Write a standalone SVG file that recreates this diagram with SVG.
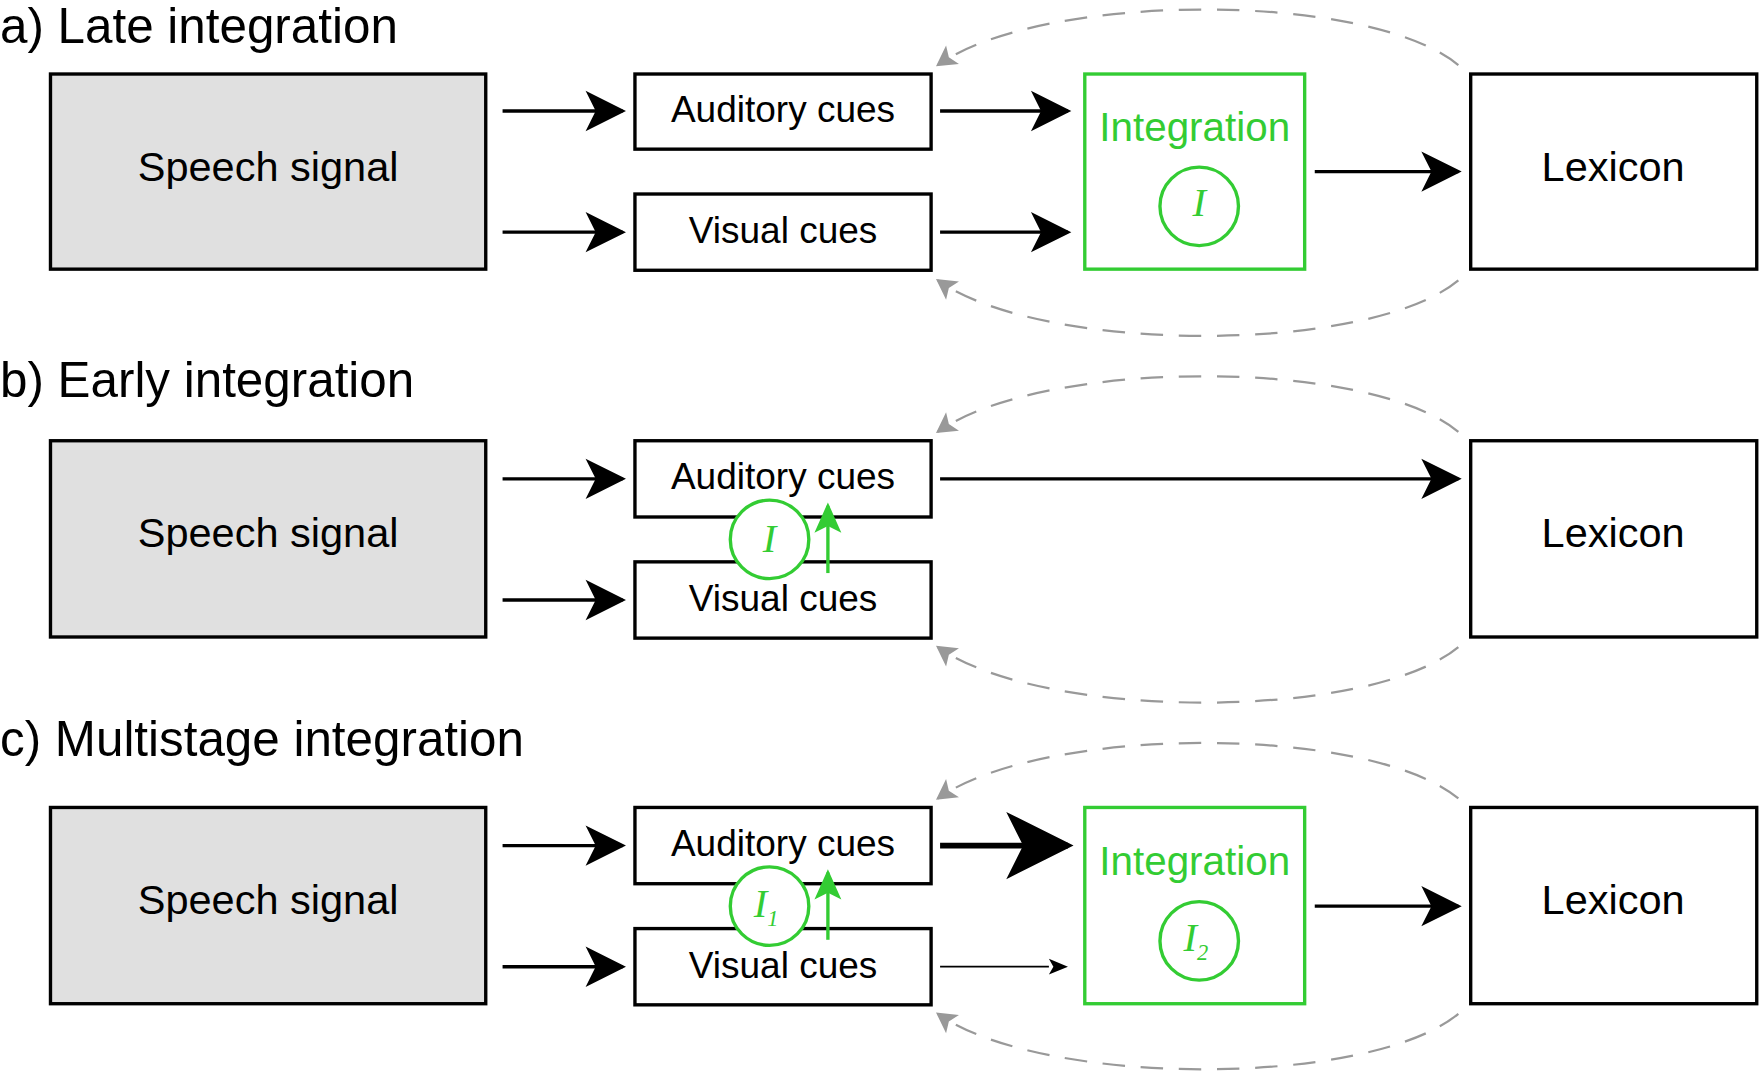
<svg xmlns="http://www.w3.org/2000/svg" width="1759" height="1071" viewBox="0 0 1759 1071">
<style>
text{font-family:"Liberation Sans",Arial,sans-serif}
.t{font-size:44px}
.l{font-size:33px;text-anchor:middle}
.gl{font-size:36px;text-anchor:middle;fill:#33cc33}
.b{font-size:37px;text-anchor:middle}
.box{fill:#fff;stroke:#000;stroke-width:3}
.sp{fill:#e0e0e0;stroke:#000;stroke-width:3}
.g{fill:#fff;stroke:#33cc33;stroke-width:3}
.a{stroke:#000;stroke-width:3;fill:none;marker-end:url(#ah)}
.d{stroke:#999;stroke-width:2;fill:none;stroke-dasharray:20 14;marker-end:url(#dh)}
.i{font-family:"Liberation Serif",serif;font-style:italic;font-size:36px;text-anchor:middle;fill:#33cc33}
</style>
<defs>
<marker id="ah" markerUnits="strokeWidth" markerWidth="12" markerHeight="12" refX="11" refY="6" orient="auto" overflow="visible"><path d="M0,0 L12,6 L0,12 L3,6 z" fill="#000"/></marker>
<marker id="gh" markerUnits="strokeWidth" markerWidth="9" markerHeight="8" refX="8" refY="4" orient="auto" overflow="visible"><path d="M0,0 L9,4 L0,8 L2,4 z" fill="#33cc33"/></marker>
<marker id="dh" markerUnits="strokeWidth" markerWidth="10" markerHeight="10" refX="8" refY="5" orient="auto" overflow="visible"><path d="M0,0 L9,5 L0,10 L2,5 z" fill="#999"/></marker>
</defs>
<g transform="scale(1.12181,1.12147)">
<text class="t" x="0" y="38">a) Late integration</text>
<text class="t" x="0" y="354">b) Early integration</text>
<text class="t" x="0" y="674">c) Multistage integration</text>

<g id="connectors">
<path class="a" d="M448,99 H555"/><path class="a" d="M448,207 H555"/>
<path class="a" d="M838,99 H952"/><path class="a" d="M838,207 H952"/>
<path class="a" d="M1172,153 H1300"/>
<path class="d" d="M1300,58 C1220,-8 930,-8 836,58"/>
<path class="d" d="M1300,250 C1220,316 930,316 836,250"/>

<path class="a" d="M448,427 H555"/><path class="a" d="M448,535 H555"/>
<path class="a" d="M838,427 H1300"/>
<path class="d" d="M1300,385 C1220,319 930,319 836,385"/>
<path class="d" d="M1300,577 C1220,643 930,643 836,577"/>

<path class="a" d="M448,754 H555"/><path class="a" d="M448,862 H555"/>
<path class="a" style="stroke-width:5" d="M838,754 H952"/>
<path class="a" style="stroke-width:1.6;marker-end:none" d="M838,862 H935"/>
<path d="M935,855 L952,862 L935,869 L939,862 z" fill="#000"/>
<path class="a" d="M1172,808 H1300"/>
<path class="d" d="M1300,712 C1220,646 930,646 836,712"/>
<path class="d" d="M1300,904 C1220,970 930,970 836,904"/>
</g>

<g id="speech-a"><rect class="sp" x="45" y="66" width="388" height="174"/><text class="b" x="239" y="161">Speech signal</text></g>
<g id="aud-a"><rect class="box" x="566" y="66" width="264" height="67"/><text class="l" x="698" y="109">Auditory cues</text></g>
<g id="vis-a"><rect class="box" x="566" y="173" width="264" height="68"/><text class="l" x="698" y="217">Visual cues</text></g>
<g id="int-a"><rect class="g" x="967" y="66" width="196" height="174"/><text class="gl" x="1065" y="126">Integration</text><circle class="g" cx="1069" cy="184" r="35"/><text class="i" x="1069" y="193">I</text></g>
<g id="lex-a"><rect class="box" x="1311" y="66" width="255" height="174"/><text class="b" x="1438" y="161">Lexicon</text></g>

<g id="speech-b"><rect class="sp" x="45" y="393" width="388" height="175"/><text class="b" x="239" y="488">Speech signal</text></g>
<g id="aud-b"><rect class="box" x="566" y="393" width="264" height="68"/><text class="l" x="698" y="436">Auditory cues</text></g>
<g id="vis-b"><rect class="box" x="566" y="501" width="264" height="68"/><text class="l" x="698" y="545">Visual cues</text></g>
<g id="int-b"><circle class="g" cx="686" cy="481" r="35"/><text class="i" x="686" y="492">I</text><path d="M738,511 V451" stroke="#33cc33" stroke-width="3" marker-end="url(#gh)"/></g>
<g id="lex-b"><rect class="box" x="1311" y="393" width="255" height="175"/><text class="b" x="1438" y="488">Lexicon</text></g>

<g id="speech-c"><rect class="sp" x="45" y="720" width="388" height="175"/><text class="b" x="239" y="815">Speech signal</text></g>
<g id="aud-c"><rect class="box" x="566" y="720" width="264" height="68"/><text class="l" x="698" y="763">Auditory cues</text></g>
<g id="vis-c"><rect class="box" x="566" y="828" width="264" height="68"/><text class="l" x="698" y="872">Visual cues</text></g>
<g id="int1-c"><circle class="g" cx="686" cy="808" r="35"/><text class="i" x="683" y="818">I<tspan font-size="20" dy="8">1</tspan></text><path d="M738,838 V778" stroke="#33cc33" stroke-width="3" marker-end="url(#gh)"/></g>
<g id="int-c"><rect class="g" x="967" y="720" width="196" height="175"/><text class="gl" x="1065" y="780">Integration</text><circle class="g" cx="1069" cy="839" r="35"/><text class="i" x="1066" y="848">I<tspan font-size="20" dy="8">2</tspan></text></g>
<g id="lex-c"><rect class="box" x="1311" y="720" width="255" height="175"/><text class="b" x="1438" y="815">Lexicon</text></g>
</g>
</svg>
